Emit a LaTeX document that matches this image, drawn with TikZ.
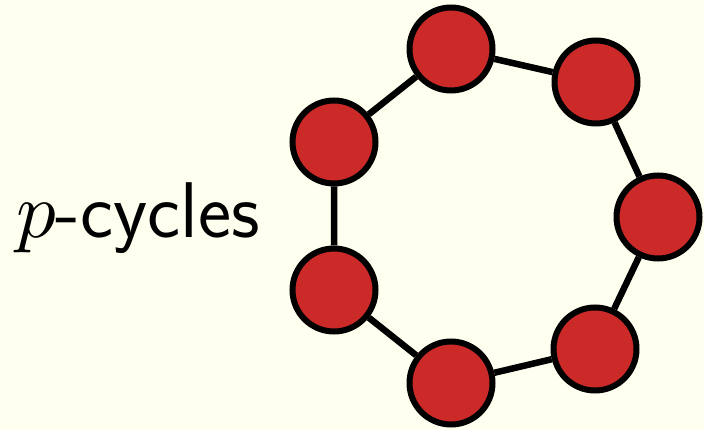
\documentclass[tikz,border=0pt]{standalone}
\usepackage{xcolor}
% scalable math italic so the label's p can be set large
\DeclareFontFamily{OML}{cmm}{\skewchar\font127}
\DeclareFontShape{OML}{cmm}{m}{it}{<->cmmi10}{}
\DeclareFontShape{OMS}{cmsy}{m}{n}{<->cmsy10}{}
\DeclareFontShape{OT1}{cmr}{m}{n}{<->cmr10}{}
\definecolor{bgcream}{RGB}{255,255,240}
\definecolor{dotred}{RGB}{204,41,41}
\begin{document}
\begin{tikzpicture}[x=1pt,y=-1pt,
  vert/.style={circle,draw=black,fill=dotred,line width=6pt,minimum size=83pt,inner sep=0pt},
  edge/.style={line width=6.5pt}]
\fill[bgcream] (0,0) rectangle (704,430);
\useasboundingbox (0,0) rectangle (704,430);
% the seven vertices of the cycle
\node[vert] (v1) at (451,49) {};
\node[vert] (v2) at (596,82) {};
\node[vert] (v3) at (658,217) {};
\node[vert] (v4) at (595,349) {};
\node[vert] (v5) at (451,383) {};
\node[vert] (v6) at (334,290) {};
\node[vert] (v7) at (334,142) {};
\draw[edge] (v1) -- (v2) (v2) -- (v3) (v3) -- (v4) (v4) -- (v5)
            (v5) -- (v6) (v6) -- (v7) (v7) -- (v1);
% label
\node[anchor=base west,inner sep=0pt,font=\fontsize{79}{90}\selectfont\sffamily]
  (lbl) at (16,238) {$p$-cycles};
\end{tikzpicture}
\end{document}
